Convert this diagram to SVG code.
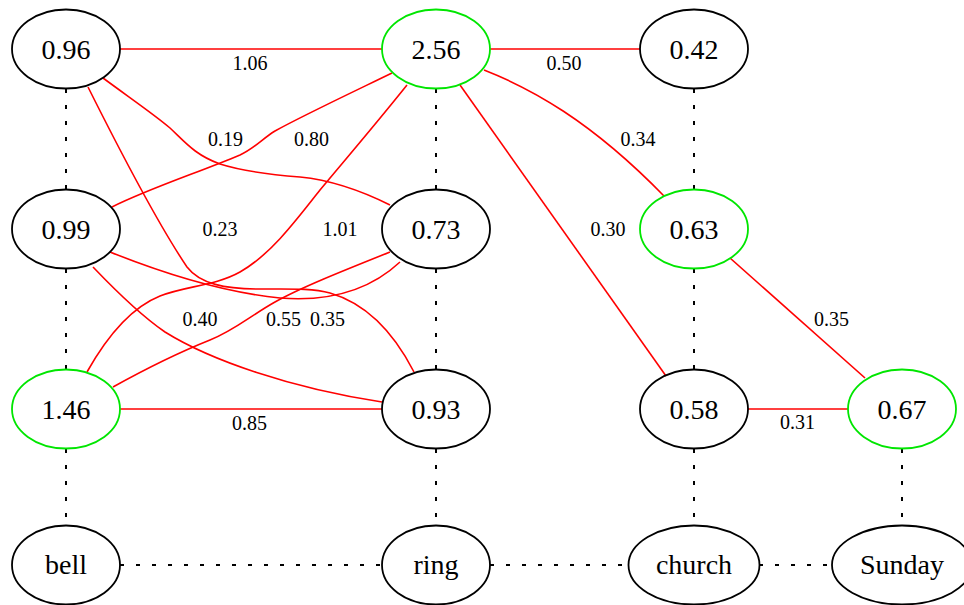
<svg xmlns="http://www.w3.org/2000/svg" width="964" height="605" viewBox="0 0 964 605">
  <style>
    .node ellipse { fill: none; stroke: #000; stroke-width: 1.8; }
    .node.hi ellipse { stroke: #00e600; }
    .node text { font-family: "Liberation Serif", "Times New Roman", serif; font-size: 28px; text-anchor: middle; fill: #000; }
    .w { fill: none; stroke: #ff0000; stroke-width: 1.6; }
    .d { fill: none; stroke: #000; stroke-width: 2; stroke-dasharray: 4 12; }
    .lbl { font-family: "Liberation Serif", "Times New Roman", serif; font-size: 20px; text-anchor: middle; fill: #000; }
  </style>
  <rect width="964" height="605" fill="#fff"/>

  <g id="connectors">
    <!-- dotted column links -->
    <line class="d" x1="66" y1="89" x2="66" y2="189"/>
    <line class="d" x1="66" y1="269" x2="66" y2="369"/>
    <line class="d" x1="66" y1="449" x2="66" y2="525"/>
    <line class="d" x1="436" y1="89" x2="436" y2="189"/>
    <line class="d" x1="436" y1="269" x2="436" y2="369"/>
    <line class="d" x1="436" y1="449" x2="436" y2="525"/>
    <line class="d" x1="694" y1="89" x2="694" y2="189"/>
    <line class="d" x1="694" y1="269" x2="694" y2="369"/>
    <line class="d" x1="694" y1="449" x2="694" y2="525"/>
    <line class="d" x1="902" y1="449" x2="902" y2="525"/>
    <!-- dotted word chain -->
    <line class="d" x1="120" y1="565" x2="382" y2="565"/>
    <line class="d" x1="490" y1="565" x2="628" y2="565"/>
    <line class="d" x1="759" y1="565" x2="832" y2="565"/>

    <!-- weighted edges -->
    <path class="w" d="M120,49 L382,49"/>
    <path class="w" d="M490,49 L640,49"/>
    <path class="w" d="M120,409 L382,409"/>
    <path class="w" d="M748,409 L848,409"/>
    <path class="w" d="M460,85 L666,376"/>
    <path class="w" d="M484,70 C530,88 590,120 664,196"/>
    <path class="w" d="M730,258 L865,378"/>
    <path class="w" d="M103,78 C130,98 155,115 170,128 C185,142 195,155 220,164 C245,172 275,175 300,177 C330,180 360,190 390,205"/>
    <path class="w" d="M88,87 C118,147 158,224 187,267 C200,284 225,289 260,289 C290,289 312,288 330,293 C368,304 395,335 414,372"/>
    <path class="w" d="M392,73 C355,91 300,117 275,131 C262,139 255,148 240,155 C200,172 150,188 112,207"/>
    <path class="w" d="M407,85 C375,125 345,160 320,190 C295,222 270,255 240,272 C215,286 185,286 160,296 C130,308 105,340 87,372"/>
    <path class="w" d="M110,252 C160,272 220,292 280,298 C330,302 370,290 400,262"/>
    <path class="w" d="M93,267 C115,290 140,315 165,332 C210,360 290,388 382,402"/>
    <path class="w" d="M390,252 C340,272 300,288 275,302 C250,316 235,330 210,340 C170,356 140,372 113,387"/>

    <!-- edge weights -->
    <text class="lbl" x="250" y="70">1.06</text>
    <text class="lbl" x="564" y="70">0.50</text>
    <text class="lbl" x="225.5" y="146">0.19</text>
    <text class="lbl" x="311.5" y="146">0.80</text>
    <text class="lbl" x="638" y="146">0.34</text>
    <text class="lbl" x="220" y="236">0.23</text>
    <text class="lbl" x="340" y="236">1.01</text>
    <text class="lbl" x="608" y="236">0.30</text>
    <text class="lbl" x="200" y="326">0.40</text>
    <text class="lbl" x="283.5" y="326">0.55</text>
    <text class="lbl" x="327.5" y="326">0.35</text>
    <text class="lbl" x="831.5" y="326">0.35</text>
    <text class="lbl" x="249.5" y="430">0.85</text>
    <text class="lbl" x="797.5" y="429">0.31</text>
  </g>

  <g id="n096" class="node"><ellipse cx="66" cy="49" rx="54" ry="39.5"/><text x="66" y="58.5">0.96</text></g>
  <g id="n256" class="node hi"><ellipse cx="436" cy="49" rx="54" ry="39.5"/><text x="436" y="58.5">2.56</text></g>
  <g id="n042" class="node"><ellipse cx="694" cy="49" rx="54" ry="39.5"/><text x="694" y="58.5">0.42</text></g>
  <g id="n099" class="node"><ellipse cx="66" cy="229" rx="54" ry="39.5"/><text x="66" y="238.5">0.99</text></g>
  <g id="n073" class="node"><ellipse cx="436" cy="229" rx="54" ry="39.5"/><text x="436" y="238.5">0.73</text></g>
  <g id="n063" class="node hi"><ellipse cx="694" cy="229" rx="54" ry="39.5"/><text x="694" y="238.5">0.63</text></g>
  <g id="n146" class="node hi"><ellipse cx="66" cy="409" rx="54" ry="39.5"/><text x="66" y="418.5">1.46</text></g>
  <g id="n093" class="node"><ellipse cx="436" cy="409" rx="54" ry="39.5"/><text x="436" y="418.5">0.93</text></g>
  <g id="n058" class="node"><ellipse cx="694" cy="409" rx="54" ry="39.5"/><text x="694" y="418.5">0.58</text></g>
  <g id="n067" class="node hi"><ellipse cx="902" cy="409" rx="54" ry="39.5"/><text x="902" y="418.5">0.67</text></g>
  <g id="bell" class="node"><ellipse cx="66" cy="565" rx="54" ry="39.5"/><text x="66" y="574">bell</text></g>
  <g id="ring" class="node"><ellipse cx="436" cy="565" rx="54" ry="39.5"/><text x="436" y="574">ring</text></g>
  <g id="church" class="node"><ellipse cx="694" cy="565" rx="65.5" ry="39.5"/><text x="694" y="574">church</text></g>
  <g id="sunday" class="node"><ellipse cx="902" cy="565" rx="70" ry="39.5"/><text x="902" y="574">Sunday</text></g>
</svg>
